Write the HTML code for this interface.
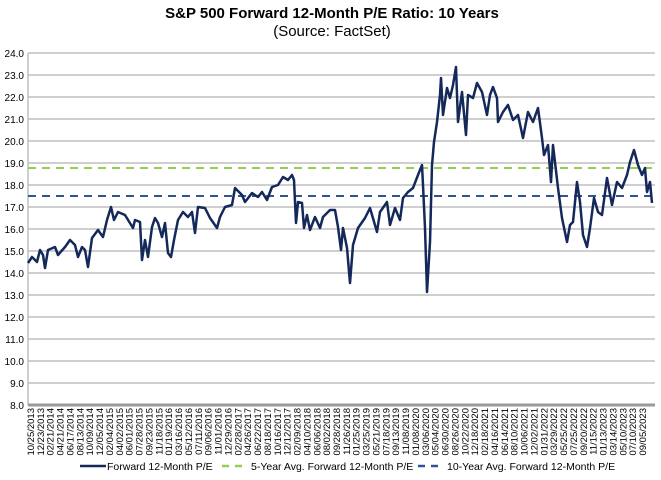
<!DOCTYPE html>
<html><head><meta charset="utf-8"><style>
body{margin:0;background:#fff}
svg{display:block;font-family:"Liberation Sans",Arial,sans-serif}
</style></head><body>
<svg width="661" height="480" viewBox="0 0 661 480">
<text x="332" y="18" text-anchor="middle" font-size="15" font-weight="bold">S&amp;P 500 Forward 12-Month P/E Ratio: 10 Years</text>
<text x="332" y="36" text-anchor="middle" font-size="15">(Source: FactSet)</text>
<g stroke="#bfbfbf" stroke-width="1.5">
<line x1="28" x2="655" y1="53" y2="53"/><line x1="28" x2="655" y1="75" y2="75"/><line x1="28" x2="655" y1="97" y2="97"/><line x1="28" x2="655" y1="119" y2="119"/><line x1="28" x2="655" y1="141" y2="141"/><line x1="28" x2="655" y1="163" y2="163"/><line x1="28" x2="655" y1="185" y2="185"/><line x1="28" x2="655" y1="207" y2="207"/><line x1="28" x2="655" y1="229" y2="229"/><line x1="28" x2="655" y1="251" y2="251"/><line x1="28" x2="655" y1="273" y2="273"/><line x1="28" x2="655" y1="295" y2="295"/><line x1="28" x2="655" y1="317" y2="317"/><line x1="28" x2="655" y1="339" y2="339"/><line x1="28" x2="655" y1="361" y2="361"/><line x1="28" x2="655" y1="383" y2="383"/>
<line x1="28" x2="28" y1="53" y2="405"/>
</g>
<line x1="28" x2="655" y1="405" y2="405" stroke="#999" stroke-width="3"/>
<g font-size="10" text-anchor="end" fill="#000">
<text x="24" y="57">24.0</text><text x="24" y="79">23.0</text><text x="24" y="101">22.0</text><text x="24" y="123">21.0</text><text x="24" y="145">20.0</text><text x="24" y="167">19.0</text><text x="24" y="189">18.0</text><text x="24" y="211">17.0</text><text x="24" y="233">16.0</text><text x="24" y="255">15.0</text><text x="24" y="277">14.0</text><text x="24" y="299">13.0</text><text x="24" y="321">12.0</text><text x="24" y="343">11.0</text><text x="24" y="365">10.0</text><text x="24" y="387">9.0</text><text x="24" y="409">8.0</text>
</g>
<line x1="28" x2="655" y1="168" y2="168" stroke="#92d050" stroke-width="2" stroke-dasharray="8,6"/>
<line x1="28" x2="655" y1="196" y2="196" stroke="#2f5597" stroke-width="2" stroke-dasharray="8,6"/>
<polyline fill="none" stroke="#14285a" stroke-width="2.5" stroke-linejoin="round" points="28,263 32,257 37,262 40,250 43,255 45,268 48,250 55,247 58,255 65,247 70,240 75,245 78,257 82,247 85,250 88,267 92,238 98,230 103,237 107,220 111,207 114,220 118,212 125,215 133,228 135,220 140,222 142,260 145,240 148,257 152,227 155,218 158,223 162,237 165,223 168,253 171,257 174,240 178,220 183,212 188,217 192,212 195,233 198,207 205,208 210,218 217,228 220,217 225,207 232,205 235,188 242,195 245,202 252,193 258,197 262,192 267,200 272,187 278,185 283,177 288,180 292,175 294,180 296,223 298,202 302,203 304,228 307,215 310,230 315,217 320,228 323,217 330,210 335,210 338,227 341,250 343,228 347,248 350,283 353,245 358,228 365,218 370,208 377,232 380,212 387,202 390,225 395,208 400,220 403,198 408,192 413,188 418,175 422,165 423,185 425,228 427,292 430,242 432,165 434,142 437,122 440,95 441,78 443,115 447,88 450,98 453,85 456,67 458,122 462,92 466,135 468,95 473,98 477,83 482,92 487,115 490,95 493,87 497,98 498,122 503,112 508,105 513,120 518,115 523,138 528,112 533,122 538,108 542,138 544,155 548,145 551,182 553,145 558,188 562,218 567,242 570,225 573,222 577,182 580,202 583,235 587,247 590,228 594,198 598,212 602,215 607,178 612,205 617,182 622,188 627,175 630,162 634,150 638,165 642,175 645,168 647,192 650,182 652,203"/>
<g font-size="9.5" fill="#000" id="xl">
<text transform="translate(34,408) rotate(-90)" text-anchor="end">10/25/2013</text>
<text transform="translate(43.9,408) rotate(-90)" text-anchor="end">12/23/2013</text>
<text transform="translate(53.7,408) rotate(-90)" text-anchor="end">02/21/2014</text>
<text transform="translate(63.6,408) rotate(-90)" text-anchor="end">04/21/2014</text>
<text transform="translate(73.5,408) rotate(-90)" text-anchor="end">06/17/2014</text>
<text transform="translate(83.4,408) rotate(-90)" text-anchor="end">08/13/2014</text>
<text transform="translate(93.2,408) rotate(-90)" text-anchor="end">10/09/2014</text>
<text transform="translate(103.1,408) rotate(-90)" text-anchor="end">12/05/2014</text>
<text transform="translate(113,408) rotate(-90)" text-anchor="end">02/04/2015</text>
<text transform="translate(122.8,408) rotate(-90)" text-anchor="end">04/02/2015</text>
<text transform="translate(132.7,408) rotate(-90)" text-anchor="end">06/01/2015</text>
<text transform="translate(142.6,408) rotate(-90)" text-anchor="end">07/28/2015</text>
<text transform="translate(152.5,408) rotate(-90)" text-anchor="end">09/23/2015</text>
<text transform="translate(162.3,408) rotate(-90)" text-anchor="end">11/18/2015</text>
<text transform="translate(172.2,408) rotate(-90)" text-anchor="end">01/19/2016</text>
<text transform="translate(182.1,408) rotate(-90)" text-anchor="end">03/16/2016</text>
<text transform="translate(191.9,408) rotate(-90)" text-anchor="end">05/12/2016</text>
<text transform="translate(201.8,408) rotate(-90)" text-anchor="end">07/11/2016</text>
<text transform="translate(211.7,408) rotate(-90)" text-anchor="end">09/06/2016</text>
<text transform="translate(221.5,408) rotate(-90)" text-anchor="end">11/01/2016</text>
<text transform="translate(231.4,408) rotate(-90)" text-anchor="end">12/29/2016</text>
<text transform="translate(241.3,408) rotate(-90)" text-anchor="end">02/28/2017</text>
<text transform="translate(251.2,408) rotate(-90)" text-anchor="end">04/26/2017</text>
<text transform="translate(261,408) rotate(-90)" text-anchor="end">06/22/2017</text>
<text transform="translate(270.9,408) rotate(-90)" text-anchor="end">08/18/2017</text>
<text transform="translate(280.8,408) rotate(-90)" text-anchor="end">10/16/2017</text>
<text transform="translate(290.6,408) rotate(-90)" text-anchor="end">12/12/2017</text>
<text transform="translate(300.5,408) rotate(-90)" text-anchor="end">02/09/2018</text>
<text transform="translate(310.4,408) rotate(-90)" text-anchor="end">04/10/2018</text>
<text transform="translate(320.3,408) rotate(-90)" text-anchor="end">06/06/2018</text>
<text transform="translate(330.1,408) rotate(-90)" text-anchor="end">08/02/2018</text>
<text transform="translate(340,408) rotate(-90)" text-anchor="end">09/28/2018</text>
<text transform="translate(349.9,408) rotate(-90)" text-anchor="end">11/26/2018</text>
<text transform="translate(359.7,408) rotate(-90)" text-anchor="end">01/25/2019</text>
<text transform="translate(369.6,408) rotate(-90)" text-anchor="end">03/25/2019</text>
<text transform="translate(379.5,408) rotate(-90)" text-anchor="end">05/21/2019</text>
<text transform="translate(389.4,408) rotate(-90)" text-anchor="end">07/18/2019</text>
<text transform="translate(399.2,408) rotate(-90)" text-anchor="end">09/13/2019</text>
<text transform="translate(409.1,408) rotate(-90)" text-anchor="end">11/08/2019</text>
<text transform="translate(419,408) rotate(-90)" text-anchor="end">01/08/2020</text>
<text transform="translate(428.8,408) rotate(-90)" text-anchor="end">03/06/2020</text>
<text transform="translate(438.7,408) rotate(-90)" text-anchor="end">05/04/2020</text>
<text transform="translate(448.6,408) rotate(-90)" text-anchor="end">06/30/2020</text>
<text transform="translate(458.5,408) rotate(-90)" text-anchor="end">08/26/2020</text>
<text transform="translate(468.3,408) rotate(-90)" text-anchor="end">10/22/2020</text>
<text transform="translate(478.2,408) rotate(-90)" text-anchor="end">12/18/2020</text>
<text transform="translate(488.1,408) rotate(-90)" text-anchor="end">02/18/2021</text>
<text transform="translate(497.9,408) rotate(-90)" text-anchor="end">04/16/2021</text>
<text transform="translate(507.8,408) rotate(-90)" text-anchor="end">06/14/2021</text>
<text transform="translate(517.7,408) rotate(-90)" text-anchor="end">08/10/2021</text>
<text transform="translate(527.5,408) rotate(-90)" text-anchor="end">10/06/2021</text>
<text transform="translate(537.4,408) rotate(-90)" text-anchor="end">12/02/2021</text>
<text transform="translate(547.3,408) rotate(-90)" text-anchor="end">01/31/2022</text>
<text transform="translate(557.2,408) rotate(-90)" text-anchor="end">03/29/2022</text>
<text transform="translate(567,408) rotate(-90)" text-anchor="end">05/25/2022</text>
<text transform="translate(576.9,408) rotate(-90)" text-anchor="end">07/25/2022</text>
<text transform="translate(586.8,408) rotate(-90)" text-anchor="end">09/20/2022</text>
<text transform="translate(596.6,408) rotate(-90)" text-anchor="end">11/15/2022</text>
<text transform="translate(606.5,408) rotate(-90)" text-anchor="end">01/13/2023</text>
<text transform="translate(616.4,408) rotate(-90)" text-anchor="end">03/14/2023</text>
<text transform="translate(626.3,408) rotate(-90)" text-anchor="end">05/10/2023</text>
<text transform="translate(636.1,408) rotate(-90)" text-anchor="end">07/10/2023</text>
<text transform="translate(646,408) rotate(-90)" text-anchor="end">09/05/2023</text>
</g>
<line x1="80" x2="106" y1="466" y2="466" stroke="#14285a" stroke-width="2.5"/>
<text x="107" y="470" font-size="10.5">Forward 12-Month P/E</text>
<line x1="222" x2="246" y1="466" y2="466" stroke="#92d050" stroke-width="2.5" stroke-dasharray="7,6"/>
<text x="251" y="470" font-size="10.5">5-Year Avg. Forward 12-Month P/E</text>
<line x1="418" x2="442" y1="466" y2="466" stroke="#2f5597" stroke-width="2.5" stroke-dasharray="7,6"/>
<text x="447" y="470" font-size="10.5">10-Year Avg. Forward 12-Month P/E</text>
</svg>
</body></html>
